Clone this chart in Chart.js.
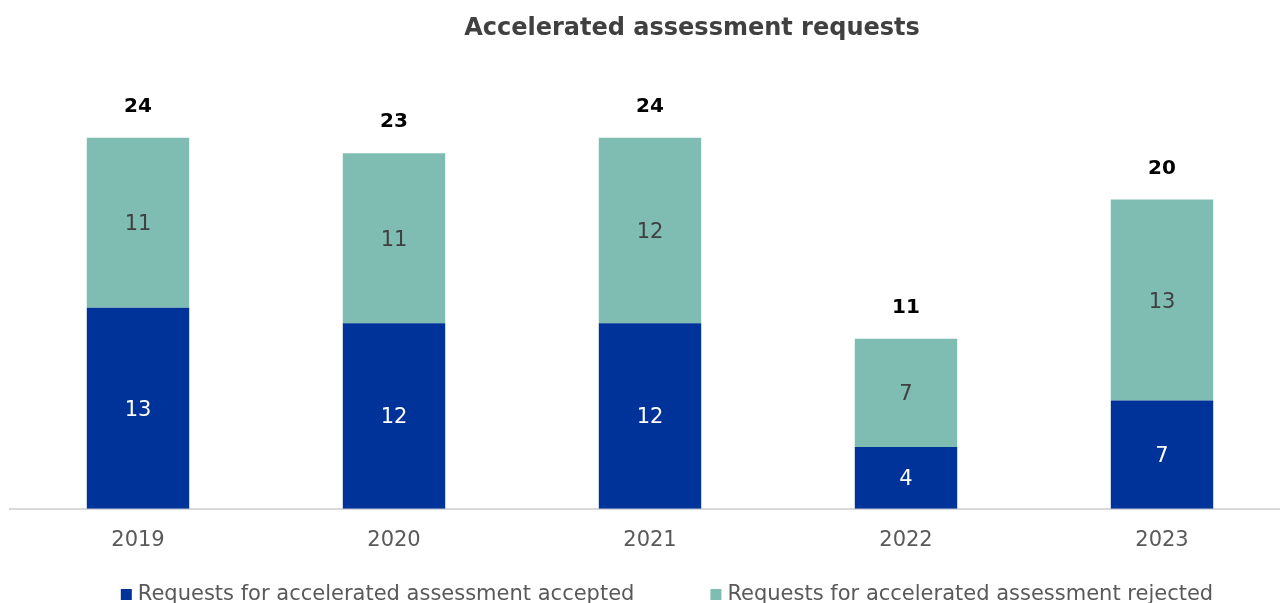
<!DOCTYPE html>
<html>
<head>
<meta charset="utf-8">
<title>Accelerated assessment requests</title>
<script src="https://cdn.jsdelivr.net/npm/chart.js@4"></script>
<style>
  html, body { margin: 0; padding: 0; background: #fff; overflow: hidden; }
  #wrap { position: relative; width: 1290px; height: 603px; }
</style>
</head>
<body>
<div id="wrap"><canvas id="grafic"></canvas></div>
<script>
// Dades del gràfic
const ANYS = ['2019', '2020', '2021', '2022', '2023'];
const ACCEPTADES = [13, 12, 12, 4, 7];
const REBUTJADES = [11, 11, 12, 7, 13];
const TOTALS = [24, 23, 24, 11, 20];

const TITOL = 'Accelerated assessment requests';
const ETIQ_ACC = 'Requests for accelerated assessment accepted';
const ETIQ_REB = 'Requests for accelerated assessment rejected';

const FONT = '"DejaVu Sans", Verdana, sans-serif';
const BLAU = '#003399';
const VERD = '#7fbcb2';

// Etiquetes de valor dins de cada tram i total a sobre de la barra
const etiquetesPlugin = {
    id: 'etiquetes',
    afterDatasetsDraw(chart) {
        const ctx = chart.ctx;
        ctx.save();
        ctx.textAlign = 'center';
        ctx.textBaseline = 'middle';
        chart.data.datasets.forEach((ds, di) => {
            const meta = chart.getDatasetMeta(di);
            ctx.font = '21px ' + FONT;
            ctx.fillStyle = di === 0 ? '#ffffff' : '#404040';
            meta.data.forEach((bar, i) => {
                const p = bar.getProps(['x', 'y', 'base'], true);
                ctx.fillText(String(ds.data[i]), p.x, (p.y + p.base) / 2 + 2);
            });
        });
        // totals
        const top = chart.getDatasetMeta(chart.data.datasets.length - 1);
        ctx.font = 'bold 20px ' + FONT;
        ctx.fillStyle = '#000000';
        top.data.forEach((bar, i) => {
            const p = bar.getProps(['x', 'y'], true);
            ctx.fillText(String(TOTALS[i]), p.x, p.y - 31);
        });
        ctx.restore();
    }
};

// Títol i llegenda dibuixats a mà per poder-los posicionar
const capcaleraPlugin = {
    id: 'capcalera',
    afterDraw(chart) {
        const ctx = chart.ctx;
        ctx.save();
        ctx.textBaseline = 'middle';
        ctx.textAlign = 'center';
        ctx.font = 'bold 24px ' + FONT;
        ctx.fillStyle = '#404040';
        ctx.fillText(TITOL, 692, 29);

        // llegenda
        ctx.font = '21px ' + FONT;
        ctx.textAlign = 'left';
        const caixa = 11, sep = 6, entre = 76;
        const items = chart.data.datasets.map(ds => ({
            text: ds.label, color: ds.backgroundColor, w: ctx.measureText(ds.label).width
        }));
        const total = items.reduce((s, it) => s + caixa + sep + it.w, 0) + entre * (items.length - 1);
        let x = 667 - total / 2;
        const y = 595;
        items.forEach(it => {
            ctx.fillStyle = it.color;
            ctx.fillRect(x, y - 6, caixa, caixa);
            ctx.fillStyle = '#595959';
            ctx.fillText(it.text, x + caixa + sep, y);
            x += caixa + sep + it.w + entre;
        });
        ctx.restore();
    }
};

new Chart(document.getElementById('grafic'), {
    type: 'bar',
    data: {
        labels: ANYS,
        datasets: [
            { label: ETIQ_ACC, data: ACCEPTADES, backgroundColor: BLAU,
              categoryPercentage: 1, barPercentage: 0.4 },
            { label: ETIQ_REB, data: REBUTJADES, backgroundColor: VERD,
              categoryPercentage: 1, barPercentage: 0.4 }
        ]
    },
    options: {
        responsive: true,
        maintainAspectRatio: false,
        animation: false,
        layout: { padding: { top: 45, left: 10, right: 0, bottom: 31 } },
        plugins: {
            legend: { display: false },
            title: { display: false },
            tooltip: { enabled: false }
        },
        scales: {
            x: {
                stacked: true,
                grid: { display: false, drawTicks: false },
                border: { display: true, color: '#d9d9d9', width: 2 },
                ticks: { color: '#595959', font: { family: FONT, size: 21 }, padding: 19 }
            },
            y: {
                stacked: true,
                display: false,
                min: 0,
                max: 30
            }
        }
    },
    plugins: [etiquetesPlugin, capcaleraPlugin]
});
</script>
</body>
</html>
